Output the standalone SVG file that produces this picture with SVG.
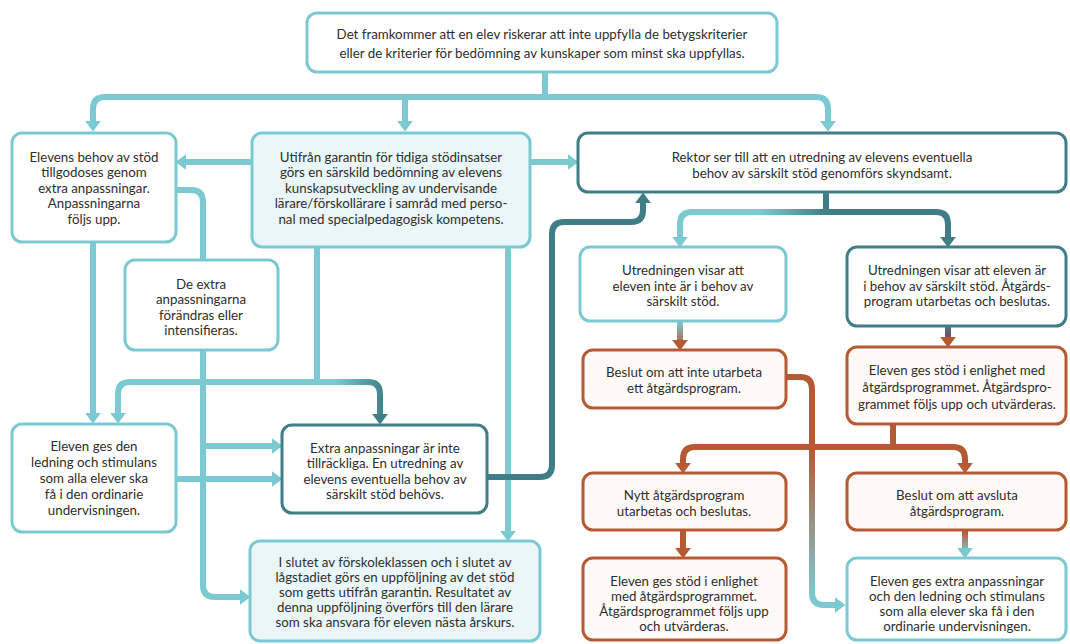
<svg xmlns="http://www.w3.org/2000/svg" width="1070" height="644" viewBox="0 0 1070 644">
<style>
  .box{stroke-width:3;fill:#ffffff}
  .lt{stroke:#7cc9d1}
  .dk{stroke:#3f7e87}
  .or{stroke:#b65a35;fill:#fffaf7}
  .fill{fill:#eaf6f8}
  .t{font-family:Lato,"Noto Sans","Liberation Sans",sans-serif;font-size:13.3px;fill:#2e2e2e;text-anchor:middle}
  .c{fill:none;stroke-width:6}
  .cl{stroke:#7cc9d1}
  .cd{stroke:#3f7e87}
  .co{stroke:#b65a35}
</style>
<defs>
  <marker id="mL" viewBox="0 0 10 15" refX="3" refY="7.5" markerWidth="11" markerHeight="16" markerUnits="userSpaceOnUse" orient="auto"><path d="M0,0 L10,7.5 L0,15 z" fill="#7cc9d1"/></marker>
  <marker id="mD" viewBox="0 0 10 15" refX="3" refY="7.5" markerWidth="11" markerHeight="16" markerUnits="userSpaceOnUse" orient="auto"><path d="M0,0 L10,7.5 L0,15 z" fill="#3f7e87"/></marker>
  <marker id="mO" viewBox="0 0 10 15" refX="3" refY="7.5" markerWidth="11" markerHeight="16" markerUnits="userSpaceOnUse" orient="auto"><path d="M0,0 L10,7.5 L0,15 z" fill="#b65a35"/></marker>
  <linearGradient id="gJ" gradientUnits="userSpaceOnUse" x1="335" y1="0" x2="385" y2="0"><stop offset="0" stop-color="#7cc9d1"/><stop offset="1" stop-color="#3f7e87"/></linearGradient>
  <linearGradient id="gCL" gradientUnits="userSpaceOnUse" x1="826" y1="0" x2="760" y2="0"><stop offset="0" stop-color="#3f7e87"/><stop offset="1" stop-color="#7cc9d1"/></linearGradient>
  <linearGradient id="gGJ" gradientUnits="userSpaceOnUse" x1="0" y1="322" x2="0" y2="346"><stop offset="0" stop-color="#7cc9d1"/><stop offset="1" stop-color="#b65a35"/></linearGradient>
  <linearGradient id="gHK" gradientUnits="userSpaceOnUse" x1="0" y1="327" x2="0" y2="344"><stop offset="0" stop-color="#3f7e87"/><stop offset="0.5" stop-color="#7a4a66"/><stop offset="1" stop-color="#b65a35"/></linearGradient>
  <linearGradient id="gJO" gradientUnits="userSpaceOnUse" x1="0" y1="450" x2="0" y2="595"><stop offset="0" stop-color="#b65a35"/><stop offset="1" stop-color="#7cc9d1"/></linearGradient>
  <linearGradient id="gMO" gradientUnits="userSpaceOnUse" x1="0" y1="532" x2="0" y2="552"><stop offset="0" stop-color="#b65a35"/><stop offset="1" stop-color="#7cc9d1"/></linearGradient>
</defs>

<g id="connectors">
  <path class="c cl" d="M545,72 V97 H105 Q93,97 93,109 V124" marker-end="url(#mL)"/>
  <path class="c cl" d="M545,97 H816 Q828,97 828,109 V124" marker-end="url(#mL)"/>
  <path class="c cl" d="M405,97 V124" marker-end="url(#mL)"/>
  <path class="c cl" d="M253,162 H183" marker-end="url(#mL)"/>
  <path class="c cl" d="M529,162 H571" marker-end="url(#mL)"/>
  <path class="c cl" d="M176,190 H191 Q203,190 203,202 V260"/>
  <path class="c cl" d="M203,350 V585 Q203,597 215,597 H243" marker-end="url(#mL)"/>
  <path class="c cl" d="M203,446 H275" marker-end="url(#mL)"/>
  <path class="c cl" d="M176,479 H275" marker-end="url(#mL)"/>
  <path class="c cl" d="M93,242 V416" marker-end="url(#mL)"/>
  <path class="c cl" d="M317,247 V382 H130 Q118,382 118,394 V416" marker-end="url(#mL)"/>
  <path class="c" stroke="url(#gJ)" d="M317,382 H368 Q380,382 380,394 V417" marker-end="url(#mD)"/>
  <path class="c cl" d="M508,247 V534" marker-end="url(#mL)"/>
  <path class="c cd" d="M487,477 H540 Q552,477 552,465 V234 Q552,222 564,222 H631 Q643,222 643,210 V200" marker-end="url(#mD)"/>
  <path class="c cd" d="M826,192 V212 H936 Q948,212 948,224 V240" marker-end="url(#mD)"/>
  <path class="c" stroke="url(#gCL)" d="M826,212 H692 Q680,212 680,224 V240" marker-end="url(#mL)"/>
  <path class="c" stroke="url(#gGJ)" d="M680,321 V343" marker-end="url(#mO)"/>
  <path class="c" stroke="url(#gHK)" d="M948,326 V340" marker-end="url(#mO)"/>
  <path class="c" stroke="url(#gJO)" d="M786,377 H800 Q812,377 812,389 V593 Q812,605 824,605 H838" marker-end="url(#mL)"/>
  <path class="c co" d="M893,424 V447 H695 Q683,447 683,459 V466" marker-end="url(#mO)"/>
  <path class="c co" d="M893,447 H953 Q965,447 965,459 V466" marker-end="url(#mO)"/>
  <path class="c co" d="M683,530 V551" marker-end="url(#mO)"/>
  <path class="c" stroke="url(#gMO)" d="M965,530 V551" marker-end="url(#mL)"/>
</g>

<g id="n-top">
  <rect class="box lt" x="307" y="13" width="470" height="59" rx="10"/>
  <text class="t" x="542" y="38.5">Det framkommer att en elev riskerar att inte uppfylla de betygskriterier</text>
  <text class="t" x="542" y="57.5">eller de kriterier för bedömning av kunskaper som minst ska uppfyllas.</text>
</g>
<g id="n-a">
  <rect class="box lt" x="12" y="133" width="164" height="109" rx="10"/>
  <text class="t" x="94" y="161.5">Elevens behov av stöd</text>
  <text class="t" x="94" y="177">tillgodoses genom</text>
  <text class="t" x="94" y="192.5">extra anpassningar.</text>
  <text class="t" x="94" y="208">Anpassningarna</text>
  <text class="t" x="94" y="223.5">följs upp.</text>
</g>
<g id="n-b">
  <rect class="box lt fill" x="252" y="133" width="278" height="114" rx="10"/>
  <text class="t" x="391" y="161.5">Utifrån garantin för tidiga stödinsatser</text>
  <text class="t" x="391" y="177">görs en särskild bedömning av elevens</text>
  <text class="t" x="391" y="192.5">kunskapsutveckling av undervisande</text>
  <text class="t" x="391" y="208">lärare/förskollärare i samråd med perso-</text>
  <text class="t" x="391" y="223.5">nal med specialpedagogisk kompetens.</text>
</g>
<g id="n-c">
  <rect class="box dk" x="578" y="133" width="488" height="59" rx="10"/>
  <text class="t" x="822" y="161.5">Rektor ser till att en utredning av elevens eventuella</text>
  <text class="t" x="822" y="177.5">behov av särskilt stöd genomförs skyndsamt.</text>
</g>
<g id="n-d">
  <rect class="box lt" x="125" y="260" width="153" height="90" rx="10"/>
  <text class="t" x="201" y="288.5">De extra</text>
  <text class="t" x="201" y="304">anpassningarna</text>
  <text class="t" x="201" y="319.5">förändras eller</text>
  <text class="t" x="201" y="335">intensifieras.</text>
</g>
<g id="n-f">
  <rect class="box lt" x="12" y="424" width="164" height="108" rx="10"/>
  <text class="t" x="94" y="450.5">Eleven ges den</text>
  <text class="t" x="94" y="466.5">ledning och stimulans</text>
  <text class="t" x="94" y="482.5">som alla elever ska</text>
  <text class="t" x="94" y="498.5">få i den ordinarie</text>
  <text class="t" x="94" y="514.5">undervisningen.</text>
</g>
<g id="n-e">
  <rect class="box dk" x="282" y="425" width="205" height="88" rx="10"/>
  <text class="t" x="385" y="452.5">Extra anpassningar är inte</text>
  <text class="t" x="385" y="468">tillräckliga. En utredning av</text>
  <text class="t" x="385" y="483.5">elevens eventuella behov av</text>
  <text class="t" x="385" y="499">särskilt stöd behövs.</text>
</g>
<g id="n-i">
  <rect class="box lt fill" x="250" y="541" width="290" height="100" rx="10"/>
  <text class="t" x="395" y="566.5">I slutet av förskoleklassen och i slutet av</text>
  <text class="t" x="395" y="581.5">lågstadiet görs en uppföljning av det stöd</text>
  <text class="t" x="395" y="596.5">som getts utifrån garantin. Resultatet av</text>
  <text class="t" x="395" y="611.5">denna uppföljning överförs till den lärare</text>
  <text class="t" x="395" y="627">som ska ansvara för eleven nästa årskurs.</text>
</g>
<g id="n-g">
  <rect class="box lt" x="580" y="247" width="206" height="74" rx="10"/>
  <text class="t" x="683" y="274.5">Utredningen visar att</text>
  <text class="t" x="683" y="290.5">eleven inte är i behov av</text>
  <text class="t" x="683" y="305.5">särskilt stöd.</text>
</g>
<g id="n-h">
  <rect class="box dk" x="847" y="247" width="219" height="79" rx="10"/>
  <text class="t" x="957" y="274.5">Utredningen visar att eleven är</text>
  <text class="t" x="957" y="290.5">i behov av särskilt stöd. Åtgärds-</text>
  <text class="t" x="957" y="305.5">program utarbetas och beslutas.</text>
</g>
<g id="n-j">
  <rect class="box or" x="583" y="350" width="203" height="58" rx="10"/>
  <text class="t" x="684" y="376.5">Beslut om att inte utarbeta</text>
  <text class="t" x="684" y="392.5">ett åtgärdsprogram.</text>
</g>
<g id="n-k">
  <rect class="box or" x="847" y="347" width="219" height="77" rx="10"/>
  <text class="t" x="957" y="374.5">Eleven ges stöd i enlighet med</text>
  <text class="t" x="957" y="391.5">åtgärdsprogrammet. Åtgärdspro-</text>
  <text class="t" x="957" y="408.5">grammet följs upp och utvärderas.</text>
</g>
<g id="n-l">
  <rect class="box or" x="583" y="473" width="203" height="57" rx="10"/>
  <text class="t" x="684" y="499.5">Nytt åtgärdsprogram</text>
  <text class="t" x="684" y="515.5">utarbetas och beslutas.</text>
</g>
<g id="n-m">
  <rect class="box or" x="847" y="473" width="219" height="57" rx="10"/>
  <text class="t" x="957" y="499.5">Beslut om att avsluta</text>
  <text class="t" x="957" y="515.5">åtgärdsprogram.</text>
</g>
<g id="n-n">
  <rect class="box or" x="583" y="558" width="203" height="82" rx="10"/>
  <text class="t" x="684" y="586">Eleven ges stöd i enlighet</text>
  <text class="t" x="684" y="601">med åtgärdsprogrammet.</text>
  <text class="t" x="684" y="616">Åtgärdsprogrammet följs upp</text>
  <text class="t" x="684" y="631">och utvärderas.</text>
</g>
<g id="n-o">
  <rect class="box lt" x="847" y="558" width="219" height="82" rx="10"/>
  <text class="t" x="957" y="586">Eleven ges extra anpassningar</text>
  <text class="t" x="957" y="601">och den ledning och stimulans</text>
  <text class="t" x="957" y="616">som alla elever ska få i den</text>
  <text class="t" x="957" y="631">ordinarie undervisningen.</text>
</g>
</svg>
